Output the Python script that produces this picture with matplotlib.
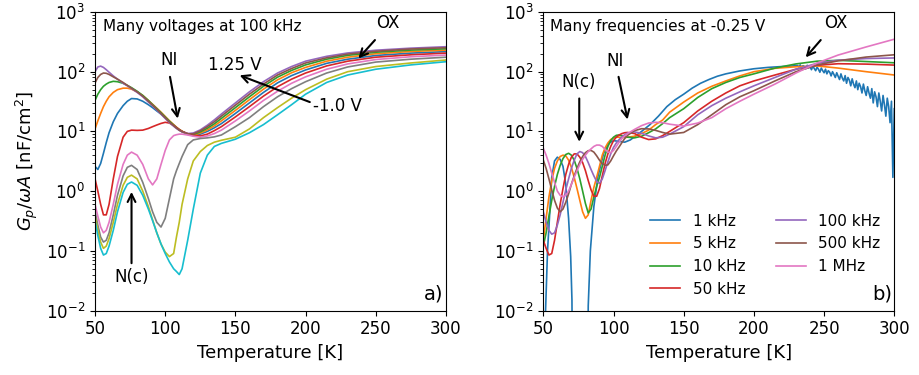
import numpy as np
import matplotlib
matplotlib.use("Agg")
import matplotlib.pyplot as plt


# =========================================================
# Panel a) : many voltages at 100 kHz
# =========================================================
temp_a = [50, 52, 54, 56, 58, 60, 63, 66, 70, 73, 76, 80, 84, 88, 91, 94, 97,
          100, 103, 106, 108, 110, 112, 116, 120, 125, 130, 135, 140, 150,
          160, 170, 180, 190, 200, 215, 230, 250, 275, 300]

a_c0 = [2.6, 2.3, 2.9, 4.3, 6.5, 9.5, 14.5, 20, 27, 32, 35.5, 35, 32, 28, 25, 22, 19.5,
        16.8, 14.5, 12.6, 11.5, 10.6, 9.9, 8.9, 8.5, 9.0, 10, 11.5, 13.5, 20,
        30, 45, 65, 86, 107, 138, 162, 187, 205, 217]
a_c1 = [11, 15, 20, 26, 32, 38, 45, 50, 53, 53, 51, 46, 40, 33, 28.5, 24.5, 21,
        17.8, 15.1, 13, 11.8, 10.8, 10.1, 9.0, 8.7, 9.4, 10.6, 12.4, 15, 22.5,
        34, 51, 73, 96, 118, 150, 175, 200, 218, 230]
a_c2 = [33, 42, 50, 57, 62, 66, 69, 68, 64, 59, 54, 47, 40, 33, 28, 24, 20.5,
        17.4, 14.8, 12.8, 11.6, 10.7, 10, 9.1, 8.9, 9.8, 11.3, 13.4, 16.5, 25,
        38, 57, 81, 105, 130, 162, 188, 212, 230, 242]
a_c3 = [1.6, 1.0, 0.6, 0.4, 0.4, 0.6, 1.6, 3.8, 8.0, 10, 10.5, 10.4, 10.5, 11.2, 12, 12.8, 13.6,
        14.2, 13.8, 12.6, 11.6, 10.7, 10, 9.2, 8.6, 8.4, 9.0, 10.3, 12, 17.5,
        26, 39, 56, 75, 95, 125, 150, 175, 192, 205]
a_c4 = [100, 120, 124, 118, 108, 98, 85, 75, 64, 58, 52, 45, 38, 31, 27, 23, 19.5,
        16.5, 14, 12.2, 11.2, 10.4, 9.8, 9.2, 9.4, 10.6, 12.7, 15.6, 19.5, 30,
        46, 68, 95, 122, 150, 181, 206, 229, 248, 262]
a_c5 = [65, 80, 90, 95, 94, 90, 82, 75, 66, 59, 53, 46, 39, 32, 27.5, 23.5, 20,
        17, 14.4, 12.5, 11.4, 10.5, 9.9, 9.1, 9.1, 10.2, 12, 14.5, 18, 27.5,
        42, 62, 88, 113, 140, 171, 197, 220, 240, 252]
a_c6 = [0.6, 0.38, 0.25, 0.2, 0.22, 0.3, 0.6, 1.3, 2.8, 4.0, 4.5, 4.0, 2.8, 1.6, 1.27, 1.6, 2.8,
        4.8, 7.2, 8.5, 8.8, 9.0, 9.0, 8.7, 8.3, 8.0, 8.4, 9.2, 10.5, 15,
        22, 33, 47, 64, 82, 110, 135, 160, 178, 190]
a_c7 = [0.45, 0.27, 0.17, 0.14, 0.15, 0.2, 0.4, 0.85, 1.8, 2.5, 2.7, 2.3, 1.4, 0.75, 0.45, 0.3, 0.25,
        0.35, 0.75, 1.6, 2.2, 2.9, 3.8, 6.0, 7.2, 7.6, 7.8, 8.1, 8.7, 12,
        17, 26, 38, 52, 68, 95, 120, 145, 162, 175]
a_c8 = [0.38, 0.22, 0.14, 0.11, 0.12, 0.16, 0.3, 0.6, 1.25, 1.7, 1.85, 1.6, 1.0, 0.55, 0.33, 0.2, 0.13,
        0.095, 0.08, 0.09, 0.17, 0.3, 0.6, 1.6, 3.2, 4.6, 5.8, 6.6, 7.1, 8.0,
        11, 17, 25, 36, 50, 75, 100, 122, 140, 157]
a_c9 = [0.32, 0.18, 0.11, 0.085, 0.09, 0.12, 0.22, 0.45, 0.95, 1.3, 1.42, 1.25, 0.85, 0.5, 0.32, 0.2, 0.13,
        0.09, 0.065, 0.05, 0.045, 0.04, 0.05, 0.15, 0.5, 2.0, 4.0, 5.6, 6.3, 7.4,
        9.5, 13, 19, 28, 42, 66, 88, 110, 130, 147]


# =========================================================
# Panel b) : many frequencies at -0.25 V
# =========================================================
freq_labels = ["1 kHz", "5 kHz", "10 kHz", "50 kHz", "100 kHz", "500 kHz", "1 MHz"]

# 1 kHz has its own temperature points (it drops out below 1e-2 and is noisy)
temp_1k = [51.0, 51.6, 53, 54, 56, 58, 60, 62, 64, 66, 68, 69.5, 70.4, 71.0,
           81.4, 82.0, 83.5, 86, 89, 93, 96.5, 100, 104, 108, 112, 116, 120,
           126, 132, 138, 144, 150, 156, 162, 168, 174, 180, 190, 200, 210, 220,
           226] + list(range(231, 301))
gp_1k = [1e-4, 0.01, 0.1, 0.25, 1.7, 3.2, 3.7, 3.4, 2.6, 1.3, 0.35, 0.08, 0.015, 1e-4,
         1e-4, 0.012, 0.1, 0.55, 1.8, 4.3, 6.3, 7.0, 6.8, 6.6, 7.2, 8.5, 10,
         13, 18, 26, 34, 42, 53, 64, 74, 84, 92, 103, 112, 118, 122,
         124,
         127, 121, 130, 118, 126, 122, 112, 128, 116, 121,
         108, 124, 113, 104, 119, 110, 98, 115, 104, 96,
         110, 92, 104, 98, 85, 100, 90, 80, 96, 84,
         74, 92, 78, 70, 86, 64, 80, 72, 58, 76,
         62, 54, 70, 50, 64, 56, 44, 62, 48, 40,
         56, 44, 36, 52, 30, 46, 38, 26, 44, 32,
         22, 40, 28, 18, 36, 26, 14, 32, 1.7, 24]

temp_b = [50, 52, 54, 56, 58, 60, 62, 64, 66, 68,
          70, 72, 74, 76, 78, 80, 82, 84, 86, 88,
          90, 92, 94, 96, 98, 100, 102, 104, 106, 108, 110,
          115, 120, 125, 130, 135, 140, 150, 160, 170, 180, 190, 200,
          215, 230, 245, 260, 280, 300]

gp_5k = [0.15, 0.35, 0.8, 1.5, 2.4, 3.2, 3.8, 4.0, 3.9, 3.3,
         2.5, 1.7, 1.1, 0.7, 0.45, 0.35, 0.4, 0.7, 1.15, 1.7,
         2.6, 4.0, 5.3, 6.4, 7.3, 7.8, 8.0, 8.0, 7.9, 7.9, 8.0,
         8.3, 9.2, 10.5, 13, 15.5, 21, 31, 44, 57, 70, 85, 100,
         114, 121, 125, 115, 100, 88]
gp_10k = [0.12, 0.2, 0.38, 0.7, 1.2, 1.9, 2.7, 3.5, 4.1, 4.3,
          4.0, 3.3, 2.4, 1.6, 1.0, 0.62, 0.43, 0.5, 0.8, 1.2,
          1.7, 2.6, 4.0, 5.6, 7.0, 8.0, 8.6, 8.7, 8.5, 8.2, 8.0,
          7.8, 8.3, 9.5, 11, 13.5, 17, 24, 37, 52, 66, 80, 92,
          115, 135, 150, 155, 148, 141]
gp_50k = [0.15, 0.11, 0.085, 0.09, 0.15, 0.3, 0.6, 1.1, 1.9, 2.8,
          3.7, 4.2, 4.2, 3.7, 3.0, 2.2, 1.5, 1.05, 0.82, 0.82,
          1.1, 1.8, 2.9, 4.2, 5.6, 7.0, 8.0, 8.7, 9.2, 9.5, 9.6,
          9.2, 8.0, 7.3, 7.5, 8.5, 10, 14, 22, 32, 44, 58, 70,
          88, 110, 128, 136, 134, 129]
gp_100k = [0.45, 0.3, 0.22, 0.19, 0.2, 0.27, 0.4, 0.65, 1.05, 1.6,
           2.4, 3.3, 4.2, 4.6, 4.4, 3.8, 3.0, 2.3, 1.8, 1.45,
           1.35, 1.6, 2.2, 3.1, 4.2, 5.4, 6.4, 7.3, 8.1, 8.8, 9.4,
           9.8, 9.3, 8.4, 7.8, 8.0, 9.0, 12, 19, 27, 36, 46, 58,
           80, 110, 138, 156, 166, 170]
gp_500k = [3.3, 2.4, 1.6, 1.05, 0.7, 0.52, 0.45, 0.5, 0.65, 0.9,
           1.3, 1.8, 2.4, 3.1, 3.8, 4.4, 4.75, 4.8, 4.5, 3.9,
           3.3, 2.9, 2.7, 2.75, 3.2, 3.9, 4.7, 5.5, 6.5, 7.6, 8.6,
           10.3, 11.1, 11.0, 10.4, 9.6, 9.0, 9.6, 13, 19, 28, 38, 48,
           70, 100, 130, 152, 176, 192]
gp_1M = [5.2, 4.0, 2.9, 2.0, 1.4, 1.0, 0.85, 0.8, 0.85, 1.0,
         1.3, 1.7, 2.2, 2.8, 3.4, 4.0, 4.6, 5.1, 5.6, 5.9,
         5.9, 5.6, 5.0, 4.5, 4.4, 4.8, 5.6, 6.6, 7.6, 8.4, 9.2,
         10.8, 12.5, 13.8, 14.2, 14.0, 13.2, 12.3, 13.8, 17, 24, 32, 42,
         62, 95, 140, 190, 260, 350]


# =========================================================
# Figure
# =========================================================
fig = plt.figure(figsize=(9.19, 3.75), dpi=100)
ax_a = fig.add_axes([0.1034, 0.172, 0.3819, 0.796])
ax_b = fig.add_axes([0.5912, 0.172, 0.3819, 0.796])

lw = 1.2
arrow = dict(arrowstyle="->", lw=1.5, color="black", mutation_scale=14,
             shrinkA=0, shrinkB=0)

for i, vals in enumerate([a_c0, a_c1, a_c2, a_c3, a_c4, a_c5, a_c6, a_c7, a_c8, a_c9]):
    ax_a.plot(temp_a, vals, color=f"C{i}", lw=lw)

ax_b.plot(temp_1k, gp_1k, color="C0", lw=lw, label=freq_labels[0])
for i, vals in enumerate([gp_5k, gp_10k, gp_50k, gp_100k, gp_500k, gp_1M]):
    ax_b.plot(temp_b, vals, color=f"C{i + 1}", lw=lw, label=freq_labels[i + 1])

for ax in (ax_a, ax_b):
    ax.set_yscale("log")
    ax.set_xlim(50, 300)
    ax.set_ylim(1e-2, 1e3)
    ax.set_xticks([50, 100, 150, 200, 250, 300])
    ax.tick_params(labelsize=12)
    ax.set_xlabel("Temperature [K]", fontsize=13)

ax_a.set_ylabel(r"$G_p/\omega A$ [nF/cm$^2$]", fontsize=13)

# ---- panel a annotations
ax_a.text(0.022, 0.975, "Many voltages at 100 kHz", transform=ax_a.transAxes,
          ha="left", va="top", fontsize=11)
ax_a.text(102.5, 155, "NI", ha="center", va="center", fontsize=12)
ax_a.annotate("", xy=(108.9, 16.4), xytext=(103.4, 82), arrowprops=arrow)
ax_a.text(76, 0.036, "N(c)", ha="center", va="center", fontsize=12)
ax_a.annotate("", xy=(76, 0.97), xytext=(76, 0.062), arrowprops=arrow)
ax_a.text(149.7, 129, "1.25 V", ha="center", va="center", fontsize=12)
ax_a.annotate("", xy=(153, 87), xytext=(203, 31), arrowprops=arrow)
ax_a.text(223, 26.5, "-1.0 V", ha="center", va="center", fontsize=12)
ax_a.text(258.9, 646, "OX", ha="center", va="center", fontsize=12)
ax_a.annotate("", xy=(237.6, 167), xytext=(249.4, 339), arrowprops=arrow)
ax_a.text(0.993, 0.025, "a)", transform=ax_a.transAxes, ha="right", va="bottom", fontsize=14)

# ---- panel b annotations
ax_b.text(0.02, 0.975, "Many frequencies at -0.25 V", transform=ax_b.transAxes,
          ha="left", va="top", fontsize=11)
ax_b.text(75.2, 68, "N(c)", ha="center", va="center", fontsize=12)
ax_b.annotate("", xy=(75.6, 6.7), xytext=(75.6, 35.6), arrowprops=arrow)
ax_b.text(101.3, 150, "NI", ha="center", va="center", fontsize=12)
ax_b.annotate("", xy=(110, 15.8), xytext=(103.6, 82), arrowprops=arrow)
ax_b.text(258, 650, "OX", ha="center", va="center", fontsize=12)
ax_b.annotate("", xy=(236.9, 174), xytext=(247.6, 339), arrowprops=arrow)
ax_b.text(0.993, 0.025, "b)", transform=ax_b.transAxes, ha="right", va="bottom", fontsize=14)

ax_b.legend(loc="lower right", ncol=2, frameon=False, fontsize=11)

fig.savefig("out.png", dpi=100)
